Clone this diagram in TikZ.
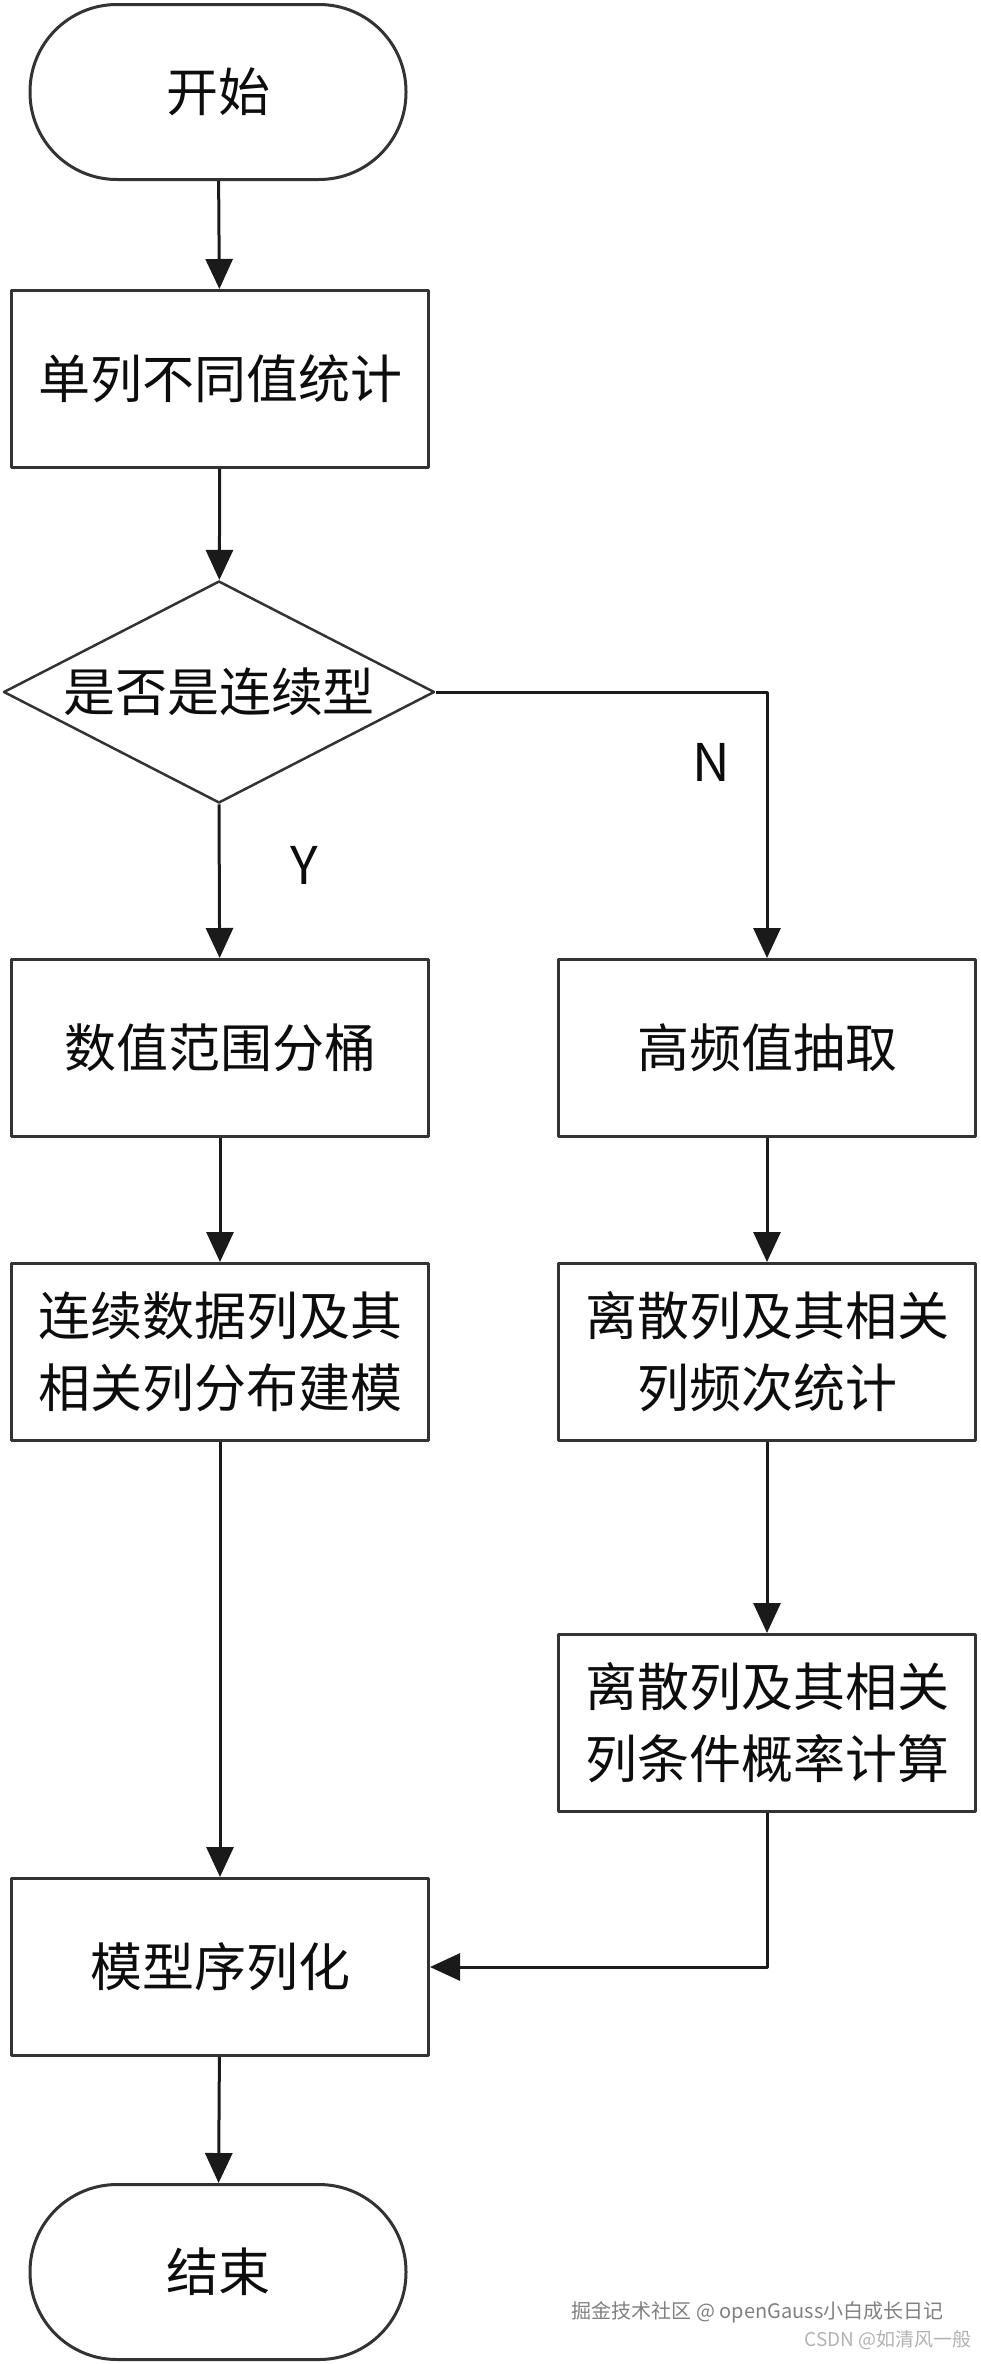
\documentclass[tikz,border=0pt]{standalone}
\usepackage{fontspec}
\setmainfont{Noto Sans CJK SC}
\usetikzlibrary{shapes.geometric,arrows.meta}
\definecolor{linec}{HTML}{333333}
\definecolor{arrowc}{HTML}{1A1A1A}
\tikzset{
	box/.style={draw=linec, line width=3pt, minimum width=417pt, minimum height=177pt, inner sep=0pt, align=center},
	terminal/.style={draw=linec, line width=3pt, minimum width=376pt, minimum height=175pt, rounded corners=87pt, inner sep=0pt},
	decision/.style={draw=linec, line width=2.5pt, diamond, aspect=1.94, minimum width=431pt, minimum height=222pt, inner sep=0pt},
	flow/.style={draw=arrowc, line width=3pt, -{Triangle[width=27pt,length=30pt]}}
}
\begin{document}
\begin{tikzpicture}[x=1pt, y=-1pt, line join=round, font=\fontsize{52}{72}\selectfont, text=black!95]
	\useasboundingbox (0,0) rectangle (980,2364);
	\node[terminal] (start) at (218,92) {开始};
	\node[terminal] (stop) at (218,2272) {结束};
	\node[decision] (decide) at (219,692) {是否是连续型};
	\foreach \n/\x/\y/\t in {stat/220/379/单列不同值统计, bucket/220/1048/数值范围分桶, freq/767/1048/高频值抽取,
		model/220/1352/{连续数据列及其\\相关列分布建模}, count/767/1352/{离散列及其相关\\列频次统计},
		cond/767/1723/{离散列及其相关\\列条件概率计算}, serial/220/1967/模型序列化}
		\node[box] (\n) at (\x,\y) {\t};
	% connectors
	\draw[flow] (start) -- (stat);
	\draw[flow] (stat) -- (decide);
	\draw[flow] (decide.south) -- (bucket) node[pos=0.4, xshift=85pt] (yes) {Y};
	\draw[flow] (decide.east) -| (freq.north) node[pos=0.632, xshift=-56pt] (no) {N};
	\draw[flow] (bucket) -- (model);
	\draw[flow] (freq) -- (count);
	\draw[flow] (count) -- (cond);
	\draw[flow] (model) -- (serial);
	\draw[flow] (cond.south) |- (serial.east);
	\draw[flow] (serial) -- (stop);
	% watermark
	\node[anchor=east, text=black!50, font=\fontsize{20}{24}\selectfont] (mark) at (947,2312) {掘金技术社区 @ openGauss小白成长日记};
	\node[anchor=east, text=black!30, font=\fontsize{19}{22}\selectfont] (csdn) at (975,2340) {CSDN @如清风一般};
\end{tikzpicture}
\end{document}
